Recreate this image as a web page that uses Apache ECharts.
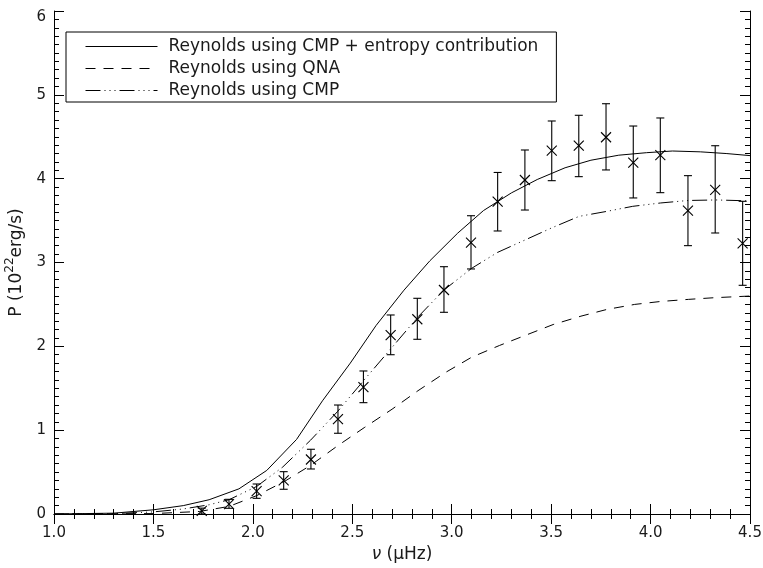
<!DOCTYPE html>
<html>
<head>
<meta charset="utf-8">
<script src="https://cdn.jsdelivr.net/npm/echarts@6/dist/echarts.min.js"></script>
<style>html,body{margin:0;padding:0;background:#fff}#c{width:763px;height:568px}</style>
</head>
<body>
<div id="c"></div>
<script>
// Curve: Reynolds using CMP + entropy contribution (solid)
const solidX = [1.0, 1.3, 1.5, 1.65, 1.78, 1.93, 2.07, 2.22, 2.35, 2.49, 2.62, 2.76, 2.89, 3.03, 3.16, 3.30, 3.43, 3.57, 3.70, 3.84, 3.98, 4.11, 4.25, 4.38, 4.5];
const solidY = [0.0, 0.01, 0.05, 0.10, 0.17, 0.30, 0.52, 0.89, 1.35, 1.80, 2.25, 2.67, 3.02, 3.35, 3.62, 3.83, 3.99, 4.13, 4.22, 4.28, 4.31, 4.33, 4.32, 4.30, 4.275];
// Curve: Reynolds using QNA (dashed)
const qnaX = [1.0, 1.5, 1.73, 1.88, 2.02, 2.16, 2.29, 2.43, 2.56, 2.70, 2.83, 2.97, 3.10, 3.24, 3.38, 3.51, 3.65, 3.78, 3.92, 4.05, 4.19, 4.32, 4.5];
const qnaY = [0.0, 0.005, 0.03, 0.09, 0.22, 0.39, 0.58, 0.82, 1.03, 1.25, 1.47, 1.69, 1.87, 2.01, 2.14, 2.26, 2.36, 2.44, 2.50, 2.535, 2.56, 2.58, 2.60];
// Curve: Reynolds using CMP (dash-dot-dot)
const cmpX = [1.0, 1.3, 1.5, 1.65, 1.78, 1.88, 2.02, 2.15, 2.29, 2.425, 2.56, 2.69, 2.83, 2.96, 3.10, 3.23, 3.37, 3.50, 3.64, 3.78, 3.91, 4.05, 4.19, 4.33, 4.5];
const cmpY = [0.0, 0.005, 0.025, 0.06, 0.11, 0.17, 0.33, 0.56, 0.88, 1.22, 1.60, 1.96, 2.35, 2.67, 2.93, 3.12, 3.27, 3.41, 3.55, 3.61, 3.67, 3.71, 3.74, 3.746, 3.735];
// Observations with error bars
const obsX  = [1.743, 1.880, 2.019, 2.155, 2.292, 2.428, 2.556, 2.693, 2.827, 2.961, 3.097, 3.231, 3.368, 3.503, 3.639, 3.776, 3.913, 4.049, 4.188, 4.325, 4.463];
const obsY  = [0.036, 0.119, 0.274, 0.40, 0.65, 1.133, 1.513, 2.135, 2.323, 2.672, 3.236, 3.725, 3.984, 4.334, 4.393, 4.494, 4.191, 4.282, 3.618, 3.865, 3.229];
const obsLo = [0.0, 0.068, 0.187, 0.295, 0.537, 0.963, 1.328, 1.900, 2.084, 2.406, 2.923, 3.376, 3.626, 3.976, 4.024, 4.104, 3.770, 3.833, 3.201, 3.352, 2.728];
const obsHi = [0.07, 0.175, 0.358, 0.505, 0.772, 1.300, 1.706, 2.374, 2.573, 2.950, 3.558, 4.074, 4.342, 4.688, 4.756, 4.894, 4.628, 4.724, 4.036, 4.393, 3.730];
const xTicks = [1.0, 1.5, 2.0, 2.5, 3.0, 3.5, 4.0, 4.5];
const yTicks = [0, 1, 2, 3, 4, 5, 6];
const names = ['Reynolds using CMP + entropy contribution', 'Reynolds using QNA', 'Reynolds using CMP'];

const zip = (a, b) => a.map((v, i) => [v, b[i]]);
const FONT = 'DejaVu Sans';
const TXT = '#1a1a1a';

const chart = echarts.init(document.getElementById('c'), null, {renderer: 'canvas'});
const axisCommon = {
  axisLine: {show: true, lineStyle: {color: '#000', width: 1}},
  splitLine: {show: false},
  minorSplitLine: {show: false}
};
chart.setOption({
  animation: false,
  backgroundColor: '#fff',
  grid: {left: 54, right: 13, top: 11, bottom: 54, containLabel: false, outerBoundsMode: 'none'},
  legend: {
    data: names,
    orient: 'vertical',
    left: 66, top: 32,
    padding: [6, 18, 3, 19],
    itemWidth: 72, itemHeight: 14, itemGap: 5,
    borderColor: '#000', borderWidth: 1, borderRadius: 0,
    backgroundColor: '#fff',
    itemStyle: {opacity: 0},
    lineStyle: {width: 1},
    textStyle: {fontFamily: FONT, fontSize: 17, lineHeight: 14, color: TXT, padding: [0, 0, 0, 6]},
    selectedMode: false
  },
  xAxis: [
    Object.assign({
      type: 'value', min: 1.0, max: 4.5, interval: 0.5, position: 'bottom',
      name: '{i|ν} (μHz)', nameLocation: 'middle', nameGap: 29,
      nameTextStyle: {fontFamily: FONT, fontSize: 17, color: TXT,
        rich: {i: {fontFamily: FONT, fontStyle: 'italic', fontSize: 17, color: TXT}}},
      axisTick: {show: true, inside: true, length: 10, lineStyle: {color: '#000'}},
      minorTick: {show: true, splitNumber: 5, length: 5, lineStyle: {color: '#000'}},
      axisLabel: {show: true, margin: 12, fontFamily: FONT, fontSize: 15, color: TXT,
        formatter: v => v.toFixed(1)}
    }, axisCommon),
    Object.assign({
      type: 'value', min: 1.0, max: 4.5, interval: 0.5, position: 'top',
      axisTick: {show: true, inside: true, length: 10, lineStyle: {color: '#000'}},
      minorTick: {show: true, splitNumber: 5, length: 5, lineStyle: {color: '#000'}},
      axisLabel: {show: false}
    }, axisCommon)
  ],
  yAxis: [
    Object.assign({
      type: 'value', min: 0, max: 6, interval: 1, position: 'left',
      name: '{n|P (10}{s|22}{n|erg/s)}', nameLocation: 'middle', nameGap: 22,
      nameTextStyle: {fontFamily: FONT, fontSize: 17, color: TXT,
        rich: {
          n: {fontFamily: FONT, fontSize: 17, color: TXT, verticalAlign: 'bottom', lineHeight: 22},
          s: {fontFamily: FONT, fontSize: 12, color: TXT, verticalAlign: 'top', lineHeight: 22}
        }},
      axisTick: {show: true, inside: true, length: 10, lineStyle: {color: '#000'}},
      minorTick: {show: true, splitNumber: 10, length: 5, lineStyle: {color: '#000'}},
      axisLabel: {show: true, margin: 8, fontFamily: FONT, fontSize: 15, color: TXT,
        formatter: v => (v === 6 ? '{t|6}' : String(v)),
        rich: {t: {fontFamily: FONT, fontSize: 15, color: TXT, padding: [12, 0, 0, 0]}}}
    }, axisCommon),
    Object.assign({
      type: 'value', min: 0, max: 6, interval: 1, position: 'right',
      axisTick: {show: true, inside: true, length: 10, lineStyle: {color: '#000'}},
      minorTick: {show: true, splitNumber: 10, length: 5, lineStyle: {color: '#000'}},
      axisLabel: {show: false}
    }, axisCommon)
  ],
  series: [
    {name: names[0], type: 'line', data: zip(solidX, solidY), showSymbol: false, symbol: 'none',
     lineStyle: {color: '#000', width: 1, type: 'solid'}, itemStyle: {color: '#000'}},
    {name: names[1], type: 'line', data: zip(qnaX, qnaY), showSymbol: false, symbol: 'none',
     lineStyle: {color: '#000', width: 1, type: [10, 8]}, itemStyle: {color: '#000'}},
    {name: names[2], type: 'line', data: zip(cmpX, cmpY), showSymbol: false, symbol: 'none',
     lineStyle: {color: '#000', width: 1, type: [15, 4, 1, 4, 1, 4, 1, 4]}, itemStyle: {color: '#000'}},
    {name: 'obs', type: 'custom',
     data: obsX.map((x, i) => [x, obsY[i], obsLo[i], obsHi[i]]),
     renderItem: (params, api) => {
       const c = api.coord([api.value(0), api.value(1)]);
       const lo = api.coord([api.value(0), api.value(2)]);
       const hi = api.coord([api.value(0), api.value(3)]);
       const m = 5, cap = 4;
       const st = {stroke: '#000', lineWidth: 1.1};
       return {type: 'group', children: [
         {type: 'line', shape: {x1: c[0], y1: lo[1], x2: c[0], y2: hi[1]}, style: st},
         {type: 'line', shape: {x1: c[0] - cap, y1: lo[1], x2: c[0] + cap, y2: lo[1]}, style: st},
         {type: 'line', shape: {x1: c[0] - cap, y1: hi[1], x2: c[0] + cap, y2: hi[1]}, style: st},
         {type: 'line', shape: {x1: c[0] - m, y1: c[1] - m, x2: c[0] + m, y2: c[1] + m}, style: st},
         {type: 'line', shape: {x1: c[0] - m, y1: c[1] + m, x2: c[0] + m, y2: c[1] - m}, style: st}
       ]};
     }}
  ]
});
</script>
</body>
</html>
